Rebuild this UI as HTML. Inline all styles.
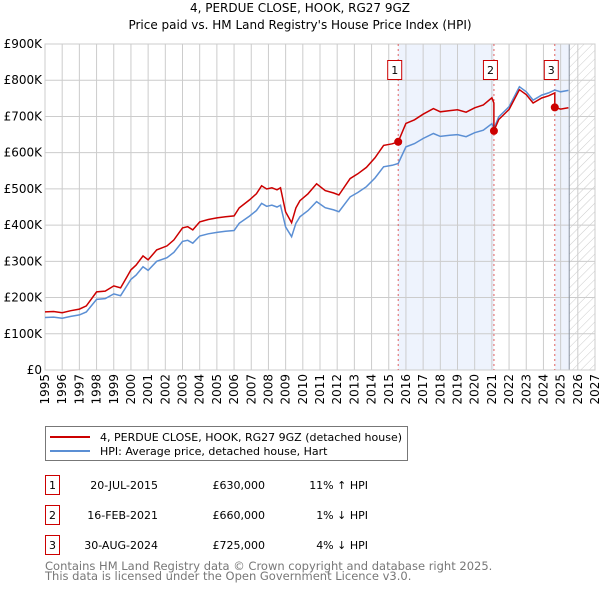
<!DOCTYPE html>
<html><head><meta charset="utf-8"><style>
body{margin:0;background:#fff;width:600px;height:590px;overflow:hidden;font-family:"DejaVu Sans","Liberation Sans",sans-serif;}
svg{position:absolute;left:0;top:0}
</style></head><body>
<svg id="c" width="600" height="590" font-family="DejaVu Sans, Liberation Sans, sans-serif">
<defs><pattern id="hatch" width="6" height="6" patternUnits="userSpaceOnUse" patternTransform="rotate(45)"><line x1="0" y1="0" x2="0" y2="6" stroke="#ccc" stroke-width="1"/></pattern></defs>
<text x="300" y="12" text-anchor="middle" font-size="12">4, PERDUE CLOSE, HOOK, RG27 9GZ</text>
<text x="300" y="29" text-anchor="middle" font-size="12">Price paid vs. HM Land Registry's House Price Index (HPI)</text>
<g id="plot"></g>
<g>
<rect x="45.5" y="426.5" width="362" height="34" fill="#fff" stroke="#777"/>
<line x1="50" y1="437" x2="90" y2="437" stroke="#cc0000" stroke-width="2"/>
<text x="100" y="441" font-size="11">4, PERDUE CLOSE, HOOK, RG27 9GZ (detached house)</text>
<line x1="50" y1="451" x2="90" y2="451" stroke="#5b8fd4" stroke-width="2"/>
<text x="100" y="455" font-size="11">HPI: Average price, detached house, Hart</text>
</g>
<g font-size="11">
<rect x="45.5" y="475.5" width="14" height="19" fill="none" stroke="#cc0000"/><text x="52.5" y="489" text-anchor="middle">1</text>
<text x="158" y="489" text-anchor="end">20-JUL-2015</text>
<text x="265" y="489" text-anchor="end">£630,000</text>
<text x="368" y="489" text-anchor="end">11% ↑ HPI</text>
<rect x="45.5" y="505.5" width="14" height="19" fill="none" stroke="#cc0000"/><text x="52.5" y="519" text-anchor="middle">2</text>
<text x="158" y="519" text-anchor="end">16-FEB-2021</text>
<text x="265" y="519" text-anchor="end">£660,000</text>
<text x="368" y="519" text-anchor="end">1% ↓ HPI</text>
<rect x="45.5" y="535.5" width="14" height="19" fill="none" stroke="#cc0000"/><text x="52.5" y="549" text-anchor="middle">3</text>
<text x="158" y="549" text-anchor="end">30-AUG-2024</text>
<text x="265" y="549" text-anchor="end">£725,000</text>
<text x="368" y="549" text-anchor="end">4% ↓ HPI</text>
</g>
<text x="45" y="570" font-size="11.5" fill="#777">Contains HM Land Registry data © Crown copyright and database right 2025.</text>
<text x="45" y="580" font-size="11.5" fill="#777">This data is licensed under the Open Government Licence v3.0.</text>
</svg>
<script>
const hpiYears=[1995,1995.5,1996,1996.5,1997,1997.4,1998,1998.5,1999,1999.4,2000,2000.3,2000.7,2001,2001.5,2002.1,2002.5,2003,2003.3,2003.6,2004,2004.5,2005,2005.5,2006,2006.3,2006.9,2007.3,2007.6,2007.9,2008.2,2008.5,2008.7,2009.0,2009.35,2009.6,2009.83,2010.3,2010.8,2011.3,2011.8,2012.1,2012.75,2013.2,2013.7,2014.2,2014.7,2015.2,2015.55,2016,2016.5,2017,2017.6,2018,2018.55,2019,2019.5,2020,2020.5,2021,2021.12,2021.4,2022,2022.6,2023,2023.4,2023.9,2024.3,2024.66,2025,2025.45];
const hpiValues=[145,146,143,148,152,160,195,197,210,205,250,262,285,275,300,310,325,355,358,350,370,376,380,383,385,405,425,440,460,452,455,450,455,395,368,405,423,440,465,448,442,437,478,490,506,530,561,565,570,616,625,639,653,645,648,650,644,655,662,680,667,699,727,782,768,745,759,765,773,768,772];
const saleYears=[2015.55,2021.12,2024.66];
const salePrices=[630,660,725];
const saleLabels=["1","2","3"];
const yTicks=[0,100,200,300,400,500,600,700,800,900];
const yTickLabels=["£0","£100K","£200K","£300K","£400K","£500K","£600K","£700K","£800K","£900K"];
const xTicks=[1995,1996,1997,1998,1999,2000,2001,2002,2003,2004,2005,2006,2007,2008,2009,2010,2011,2012,2013,2014,2015,2016,2017,2018,2019,2020,2021,2022,2023,2024,2025,2026,2027];
const dataEnd=2025.5;

const L=45,R=595,T=44,B=370;
const xs=y=>L+(y-1995)/(2027-1995)*(R-L);
const ys=v=>B-v/900*(B-T);
const NS="http://www.w3.org/2000/svg";
const g=document.getElementById('plot');
function mk(tag,attrs,parent){const e=document.createElementNS(NS,tag);for(const k in attrs)e.setAttribute(k,attrs[k]);(parent||g).appendChild(e);return e;}
function hpiAt(y){for(let i=0;i<hpiYears.length-1;i++){if(y>=hpiYears[i]&&y<=hpiYears[i+1]){const t=(y-hpiYears[i])/(hpiYears[i+1]-hpiYears[i]);return hpiValues[i]+t*(hpiValues[i+1]-hpiValues[i]);}}return hpiValues[hpiValues.length-1];}

let e;
e=mk('rect',{x:xs(saleYears[0]),y:T,width:xs(saleYears[1])-xs(saleYears[0]),height:B-T,fill:'#eef3fd'});


e=mk('rect',{x:xs(saleYears[2]),y:T,width:xs(dataEnd)-xs(saleYears[2]),height:B-T,fill:'#eef3fd'});


e=mk('rect',{x:xs(dataEnd),y:T,width:R-xs(dataEnd),height:B-T,fill:'url(#hatch)'});



yTicks.forEach((v,i)=>{
  e=mk('line',{x1:L,x2:R,y1:ys(v),y2:ys(v),stroke:'#ccc','stroke-width':1});
  
  
  e=mk('text',{x:L-3,y:ys(v)+4,'text-anchor':'end','font-size':12});
  e.textContent=yTickLabels[i];
  
  
});
xTicks.forEach(y=>{
  e=mk('line',{x1:xs(y),x2:xs(y),y1:T,y2:B,stroke:'#ccc','stroke-width':1});
  
  
  e=mk('text',{x:0,y:0,'text-anchor':'end','font-size':12,transform:`translate(${xs(y)+4},${B+4}) rotate(-90)`});
  e.textContent=y;
  
  
});
e=mk('line',{x1:xs(dataEnd),x2:xs(dataEnd),y1:T,y2:B,stroke:'#8892a0','stroke-width':1});


e=mk('rect',{x:L,y:T,width:R-L,height:B-T,fill:'none',stroke:'#ccc'});



saleYears.forEach((sy,i)=>{
  e=mk('line',{x1:xs(sy),x2:xs(sy),y1:T,y2:B,stroke:'#e06060','stroke-width':1,'stroke-dasharray':'2,3'});
  
  
});

let d=hpiYears.map((y,i)=>(i?'L':'M')+xs(y).toFixed(1)+','+ys(hpiValues[i]).toFixed(1)).join('');
e=mk('path',{d:d,fill:'none',stroke:'#5b8fd4','stroke-width':1.5});



const ratios=saleYears.map((s,i)=>salePrices[i]/hpiAt(s));
function ratioAt(y){if(y<saleYears[1])return ratios[0];if(y<saleYears[2])return ratios[1];return ratios[2];}
let pts=[];
hpiYears.forEach((y,i)=>{
  saleYears.forEach((s,k)=>{if(k>0&&s>(i?hpiYears[i-1]:0)&&s<=y){pts.push([s,hpiAt(s)*ratios[k-1]]);pts.push([s,salePrices[k]]);}});
  pts.push([y,hpiValues[i]*ratioAt(y)]);
});
d=pts.map((p,i)=>(i?'L':'M')+xs(p[0]).toFixed(1)+','+ys(p[1]).toFixed(1)).join('');
e=mk('path',{d:d,fill:'none',stroke:'#cc0000','stroke-width':1.5});



saleYears.forEach((sy,i)=>{
  e=mk('circle',{cx:xs(sy),cy:ys(salePrices[i]),r:4,fill:'#cc0000'});
  
  
  e=mk('rect',{x:xs(sy)-10.5,y:60.5,width:14,height:19,fill:'#fff',stroke:'#cc0000'});
  
  
  e=mk('text',{x:xs(sy)-3.5,y:74,'text-anchor':'middle','font-size':11});
  e.textContent=saleLabels[i];
  
  
});
</script>
</body></html>
